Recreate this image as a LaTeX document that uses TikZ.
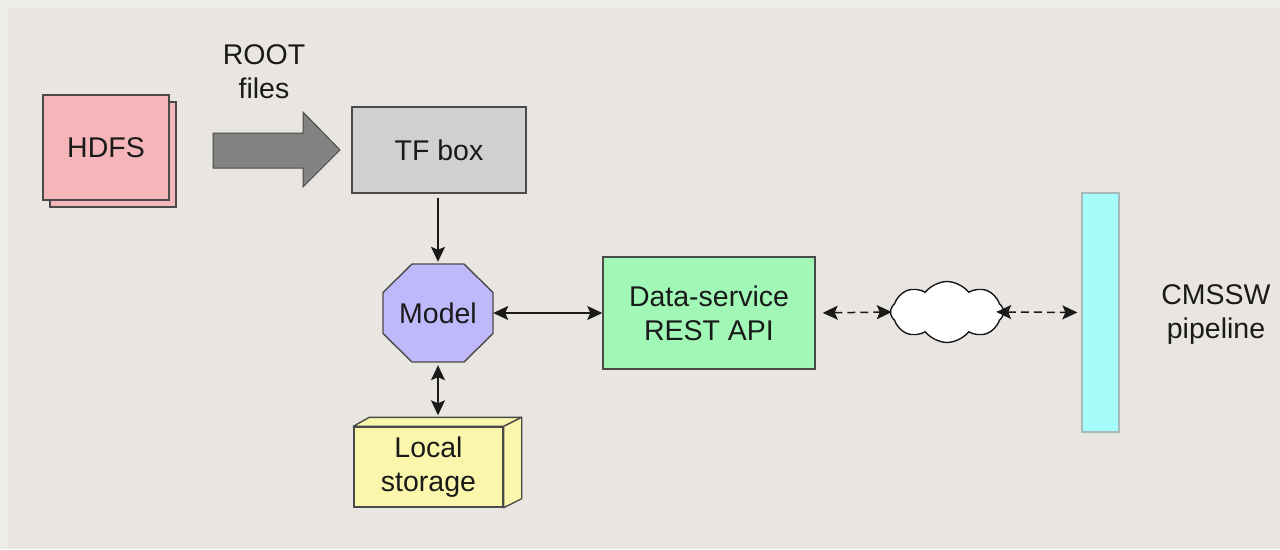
\documentclass[tikz,border=0pt]{standalone}
\usepackage{fontspec}
\setmainfont{Liberation Sans}
\usetikzlibrary{arrows.meta,shapes.symbols,shadows,calc}

\definecolor{paper}{HTML}{E9E6E1}
\definecolor{paperedge}{HTML}{EFEDE9}
\definecolor{hdfspink}{HTML}{F4B6B8}
\definecolor{tfgray}{HTML}{D0D0D0}
\definecolor{modelviolet}{HTML}{BFB8FA}
\definecolor{servicegreen}{HTML}{A1F7B6}
\definecolor{storageyellow}{HTML}{FAF7AC}
\definecolor{pipecyan}{HTML}{A6FCFB}
\definecolor{pipeedge}{HTML}{A9B9B9}
\definecolor{edgegray}{HTML}{4A4A4A}
\definecolor{bigarrowgray}{HTML}{828282}
\definecolor{inkblack}{HTML}{1A1A1A}

\tikzset{
  flowtip/.tip={Stealth[length=15pt,width=14pt,inset=3pt]},
  label font/.style={font=\fontsize{28.5}{34}\selectfont, text=inkblack, align=center},
  box/.style={label font, draw=edgegray, line width=1.4pt, inner sep=0pt},
  flow/.style={line width=1.5pt, draw=inkblack, flowtip-flowtip},
  oneway/.style={line width=1.5pt, draw=inkblack, -flowtip},
  netflow/.style={flow, dash pattern=on 8pt off 5pt},
}

\begin{document}
\begin{tikzpicture}[x=1pt,y=-1pt]
  % page
  \useasboundingbox (0,0) rectangle (1280,549);
  \fill[paper] (0,0) rectangle (1280,549);
  \fill[paperedge] (0,0) rectangle (8,549);
  \fill[paperedge] (8,0) rectangle (1280,8);

  % HDFS: a stack of sheets
  \node[box, fill=hdfspink, minimum width=126pt, minimum height=105pt,
        copy shadow={shadow xshift=7pt, shadow yshift=-7pt}]
        (hdfs) at (106,147.5) {HDFS};

  % thick transfer arrow with its caption
  \draw[fill=bigarrowgray, draw=edgegray, line width=1pt]
    (213,133) -- (303,133) -- (303,112) -- (340,150) -- (303,187)
    -- (303,168) -- (213,168) -- cycle;
  \node[label font] (rootfiles) at (264,72) {ROOT\\files};

  % TF box
  \node[box, fill=tfgray, minimum width=174pt, minimum height=86pt]
        (tfbox) at (439,150) {TF box};

  % model (octagon)
  \filldraw[fill=modelviolet, draw=edgegray, line width=1.4pt]
    (412,264) -- (464,264) -- (493,292.5) -- (493,333.5)
    -- (464,362) -- (412,362) -- (383,333.5) -- (383,292.5) -- cycle;
  \node[label font, minimum width=110pt, minimum height=98pt, inner sep=0pt]
        (model) at (438,313) {Model};

  % data service
  \node[box, fill=servicegreen, minimum width=212pt, minimum height=112pt]
        (service) at (709,313) {Data-service\\REST API};

  % local storage (box in perspective)
  \node[box, fill=storageyellow, minimum width=149pt, minimum height=80pt]
        (storage) at (428.5,467) {Local\\storage};
  \filldraw[fill=storageyellow, draw=edgegray, line width=1.4pt, line join=round]
    (storage.north west) -- ++(16,-9) -- ($(storage.north east)+(18,-9)$)
    -- (storage.north east) -- cycle;
  \filldraw[fill=storageyellow, draw=edgegray, line width=1.4pt, line join=round]
    (storage.north east) -- ++(18,-9) -- ($(storage.south east)+(18,-9)$)
    -- (storage.south east) -- cycle;
  \coordinate (storagetop) at ($(model.south |- storage.north)+(0,-11)$);

  % network cloud
  \node[cloud, cloud puffs=8, cloud puff arc=105, aspect=1.9,
        draw=inkblack, fill=white, line width=1.4pt, inner sep=0pt,
        minimum width=113pt, minimum height=61pt]
        (cloud) at (947,312) {};

  % CMSSW pipeline
  \node[draw=pipeedge, fill=pipecyan, line width=1.2pt,
        minimum width=37pt, minimum height=239pt, inner sep=0pt]
        (pipeline) at (1100.5,312.5) {};
  \node[label font] (cmssw) at (1216,315) {CMSSW\\pipeline};

  % connectors
  \draw[oneway, shorten <=4pt, shorten >=2pt] (tfbox.south -| model.north) -- (model.north);
  \draw[flow] (model.east) -- (service.west);
  \draw[flow, shorten <=3pt] (model.south) -- (storagetop);
  \draw[netflow, shorten <=7pt, shorten >=-2pt] (service.east) -- (cloud.west);
  \draw[netflow, shorten <=-8pt, shorten >=4pt] (cloud.east) -- (pipeline.west);
\end{tikzpicture}
\end{document}
